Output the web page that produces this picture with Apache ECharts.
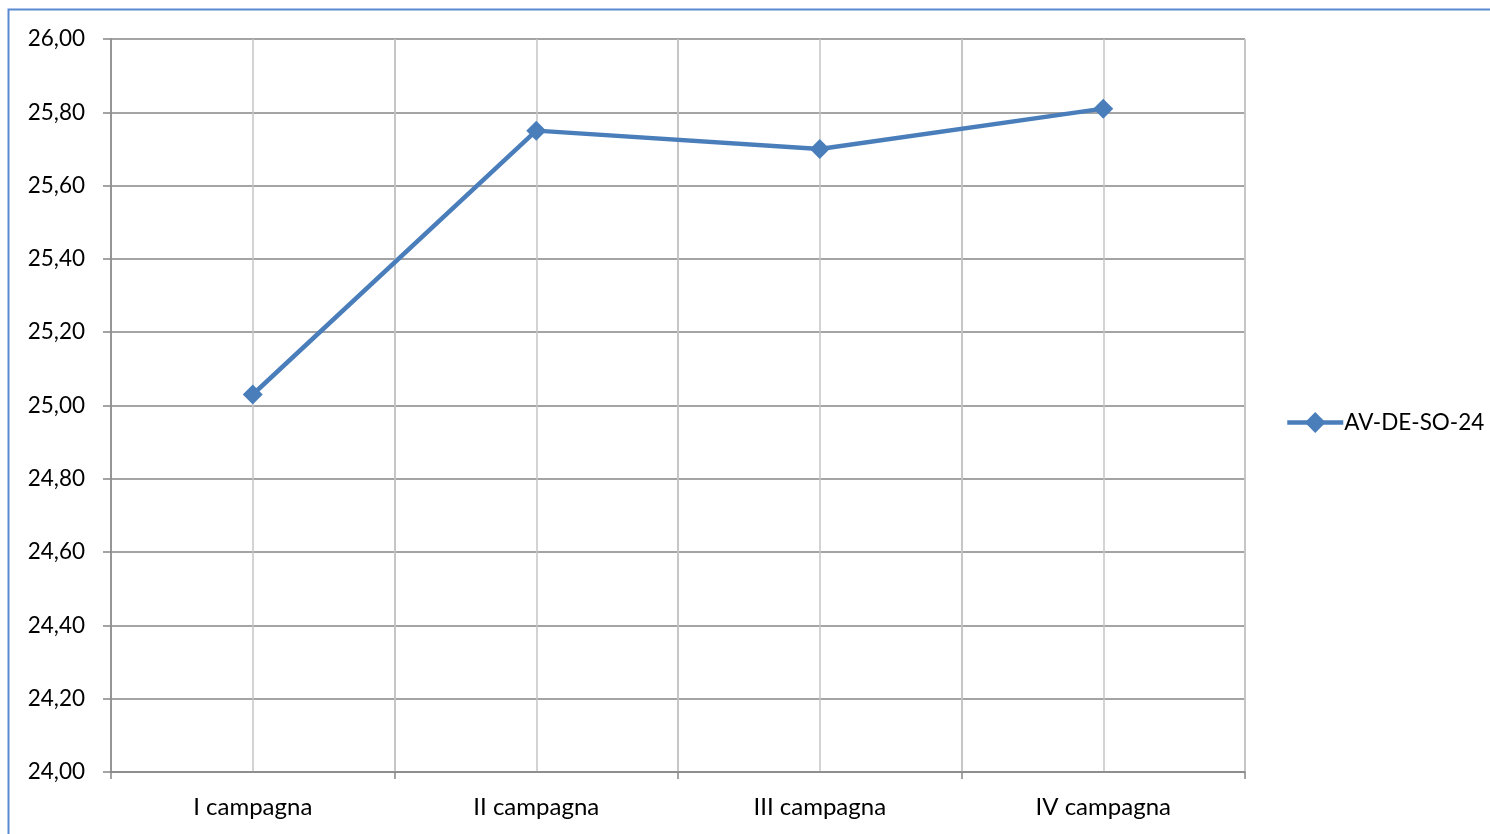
<!DOCTYPE html>
<html>
<head>
<meta charset="utf-8">
<script src="https://cdn.jsdelivr.net/npm/echarts@6/dist/echarts.min.js"></script>
<style>
html,body{margin:0;padding:0;background:#fff;}
#c{width:1490px;height:834px;}
</style>
</head>
<body>
<div id="c"></div>
<script>
const categories = ['I campagna', 'II campagna', 'III campagna', 'IV campagna'];
const seriesName = 'AV-DE-SO-24';
const values = [25.03, 25.75, 25.70, 25.81];
const yMin = 24, yMax = 26, yStep = 0.2;

const FONT = 'Lato';
const chart = echarts.init(document.getElementById('c'), null, {renderer: 'canvas'});
chart.setOption({
  animation: false,
  backgroundColor: '#fff',
  textStyle: {fontFamily: FONT},
  graphic: [
    {type: 'polyline', shape: {points: [[8.5, 834], [8.5, 9.5], [1490, 9.5]]},
     style: {stroke: '#5a8ad0', lineWidth: 2, fill: null}, silent: true}
  ],
  legend: {
    data: [seriesName],
    left: 1285, top: 411, padding: 0,
    orient: 'vertical',
    itemWidth: 56, itemHeight: 26, itemGap: 4,
    lineStyle: {width: 4.5, color: '#4a7ebb'},
    textStyle: {fontFamily: FONT, fontSize: 22.5, color: '#000', padding: [0, 0, 0, -4]}
  },
  grid: {left: 111, right: 245, top: 39, bottom: 62, containLabel: false},
  xAxis: [
    {
      type: 'category', data: categories, boundaryGap: true,
      axisLine: {show: true, lineStyle: {color: '#868686', width: 1.5}},
      axisTick: {show: true, length: 7, interval: 0, lineStyle: {color: '#868686', width: 1.5}},
      axisLabel: {color: '#000', fontSize: 24, fontFamily: FONT, margin: 23, interval: 0},
      splitLine: {show: true, interval: 0, lineStyle: {color: '#b8b8b8', width: 1.5}}
    },
    {
      type: 'value', min: 0, max: 8, interval: 1, show: true, position: 'bottom',
      axisLine: {show: false}, axisTick: {show: false}, axisLabel: {show: false},
      splitLine: {show: true, lineStyle: {color: '#c4c4c4', width: 1.5}}
    }
  ],
  yAxis: {
    type: 'value', min: yMin, max: yMax, interval: yStep,
    axisLine: {show: true, lineStyle: {color: '#868686', width: 1.5}},
    axisTick: {show: true, length: 8, lineStyle: {color: '#868686', width: 1.5}},
    axisLabel: {color: '#000', fontSize: 22.5, fontFamily: FONT, margin: 26,
      formatter: v => v.toFixed(2).replace('.', ',')},
    splitLine: {show: true, lineStyle: {color: '#868686', width: 1.5}}
  },
  series: [{
    name: seriesName, type: 'line', data: values, xAxisIndex: 0,
    symbol: 'diamond', symbolSize: 20,
    lineStyle: {color: '#4a7ebb', width: 4.5},
    itemStyle: {color: '#4a7ebb'},
    z: 5
  }]
});
</script>
</body>
</html>
